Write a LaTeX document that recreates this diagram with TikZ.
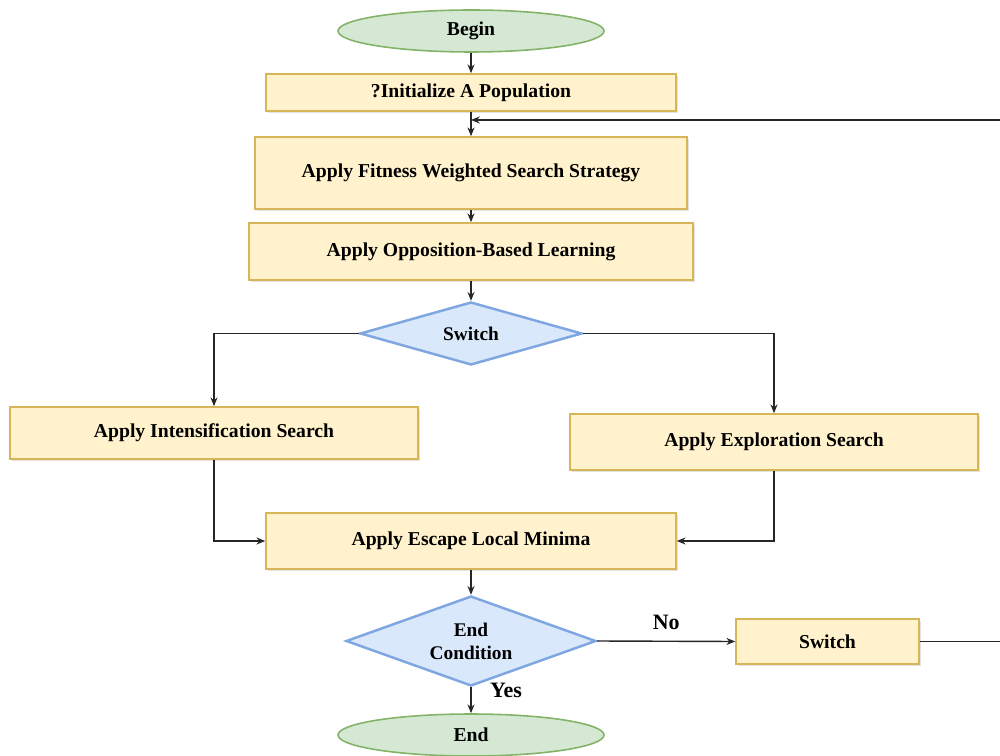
\documentclass[tikz,border=0pt]{standalone}
\usepackage{fontspec}
\setmainfont{Liberation Serif}
\usetikzlibrary{shapes.geometric,arrows.meta,shadows}

\definecolor{boxfill}{HTML}{FFF2CC}
\definecolor{boxline}{HTML}{D6B656}
\definecolor{decfill}{HTML}{DAE8FC}
\definecolor{decline}{HTML}{7EA6E0}
\definecolor{termfill}{HTML}{D5E8D4}
\definecolor{termline}{HTML}{82B366}

\tikzset{
  procbox/.style={rectangle, draw=boxline, fill=boxfill, line width=0.9pt,
    inner sep=0pt, font=\bfseries\fontsize{11.2}{12}\selectfont,
    drop shadow={opacity=0.22, shadow xshift=1.2pt, shadow yshift=-1.2pt}},
  decision/.style={diamond, draw=decline, fill=decfill, line width=1.4pt,
    inner sep=0pt, align=center, font=\bfseries\fontsize{11}{13}\selectfont},
  terminal/.style={ellipse, draw=termline, fill=termfill, line width=0.9pt,
    inner sep=0pt, font=\bfseries\fontsize{11.2}{12}\selectfont},
  flow/.style={draw=black!85, line width=0.8pt, -{Stealth[length=5pt,width=4pt]}},
  plainline/.style={draw=black!85, line width=0.8pt},
  edgelabel/.style={font=\bfseries\fontsize{12.5}{14}\selectfont}
}

\begin{document}
\begin{tikzpicture}[x=0.02cm, y=-0.02cm]
  \useasboundingbox (0,0) rectangle (1000,756);

  % nodes
  \node[terminal, minimum width=5.32cm, minimum height=0.84cm] (begin) at (471,31) {Begin};
  \node[procbox, minimum width=8.2cm, minimum height=0.74cm] (init) at (471,92.5) {?Initialize A Population};
  \node[procbox, minimum width=8.64cm, minimum height=1.44cm] (fitness) at (471,173) {Apply Fitness Weighted Search Strategy};
  \node[procbox, minimum width=8.88cm, minimum height=1.14cm] (obl) at (471,251.5) {Apply Opposition-Based Learning};
  \node[decision, shape aspect=3.5, minimum width=4.44cm, minimum height=1.26cm] (switch) at (471,333.5) {Switch};
  \node[procbox, minimum width=8.16cm, minimum height=1.04cm] (intens) at (214,433) {Apply Intensification Search};
  \node[procbox, minimum width=8.16cm, minimum height=1.12cm] (explor) at (774,442) {Apply Exploration Search};
  \node[procbox, minimum width=8.2cm, minimum height=1.12cm] (escape) at (471,541) {Apply Escape Local Minima};
  \node[decision, shape aspect=2.78, minimum width=5.0cm, minimum height=1.8cm] (endcond) at (471,641) {End\\Condition};
  \node[procbox, minimum width=3.66cm, minimum height=0.9cm] (swbox) at (827.5,641.5) {Switch};
  \node[terminal, minimum width=5.32cm, minimum height=0.84cm] (finish) at (471,735) {End};

  % helper points for the loop back
  \coordinate (loopA) at (1000.5,641.5);
  \coordinate (loopB) at (1000.5,120);
  \coordinate (loopC) at (471,120);
  \coordinate (yespos) at (506,690);

  % main flow
  \draw[flow] (begin) -- (init);
  \draw[flow] (init) -- (fitness);
  \draw[flow] (fitness) -- (obl);
  \draw[flow] (obl) -- (switch);
  \draw[flow] (switch.west) -| (intens.north);
  \draw[flow] (switch.east) -| (explor.north);
  \draw[flow] (intens.south) |- (escape.west);
  \draw[flow] (explor.south) |- (escape.east);
  \draw[flow] (escape) -- (endcond);
  \draw[flow] (endcond.east) -- node[edgelabel, above=3pt, pos=0.5] {No} (swbox.west);
  \draw[flow] (endcond.south) -- (finish.north);
  \node[edgelabel] (yes) at (yespos) {Yes};

  % loop back to the search step
  \draw[plainline] (swbox.east) -- (loopA) -- (loopB);
  \draw[flow] (loopB) -- (loopC);
\end{tikzpicture}
\end{document}
